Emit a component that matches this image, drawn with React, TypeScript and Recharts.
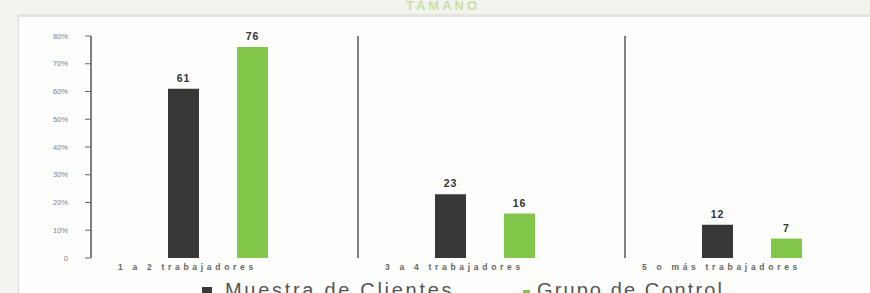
import React from 'react';
import { BarChart, Bar, XAxis, YAxis, LabelList, ReferenceLine, Legend } from 'recharts';

const categories = ['1 a 2 trabajadores', '3 a 4 trabajadores', '5 o más trabajadores'];
const muestraClientes = [61, 23, 12];
const grupoControl = [76, 16, 7];
const yTicks = [0, 10, 20, 30, 40, 50, 60, 70, 80];
const yTickLabels = ['0', '10%', '20%', '30%', '40%', '50%', '60%', '70%', '80%'];
const separatorCategories = ['3 a 4 trabajadores', '5 o más trabajadores'];
const seriesNames = ['Muestra de Clientes', 'Grupo de Control'];
const titleText = 'TAMAÑO';

const DARK = '#3a3737';
const GREEN = '#82c64a';

const data = categories.map((c, i) => ({
  category: c,
  muestra: muestraClientes[i],
  control: grupoControl[i],
}));

const CategoryTick = (props: any) => {
  const { x, y, payload } = props;
  return (
    <text
      x={x}
      y={y}
      dx={-30}
      dy={4}
      textAnchor="middle"
      fontFamily="Liberation Sans, Arial, sans-serif"
      fontSize={8.5}
      fontWeight="bold"
      letterSpacing={3.7}
      fill="#666"
    >
      {payload.value}
    </text>
  );
};

const renderLegend = (props: any) => {
  const payload = [...(props.payload || [])].sort(
    (a: any, b: any) => seriesNames.indexOf(a.value) - seriesNames.indexOf(b.value)
  );
  const pos = [
    { sq: 202, sqSize: 10, text: 225, ls: 2.7 },
    { sq: 523, sqSize: 7, text: 537, ls: 2.1 },
  ];
  return (
    <div style={{ position: 'relative', width: 870, height: 30 }}>
      {payload.map((p: any, i: number) => (
        <React.Fragment key={i}>
          <div
            style={{
              position: 'absolute',
              left: pos[i].sq,
              top: 17 + (10 - pos[i].sqSize),
              width: pos[i].sqSize,
              height: pos[i].sqSize,
              background: p.color,
            }}
          />
          <div
            style={{
              position: 'absolute',
              left: pos[i].text,
              top: 10,
              fontFamily: 'Liberation Sans, Arial, sans-serif',
              fontSize: 20,
              lineHeight: '20px',
              letterSpacing: pos[i].ls,
              color: '#555',
              whiteSpace: 'nowrap',
            }}
          >
            {p.value}
          </div>
        </React.Fragment>
      ))}
    </div>
  );
};

export default function App() {
  return (
    <div
      style={{
        position: 'fixed',
        left: 0,
        top: 0,
        width: 870,
        height: 293,
        overflow: 'hidden',
        background: '#f3f3ef',
      }}
    >
      <div
        style={{
          position: 'absolute',
          zIndex: 0,
          left: 18,
          top: 14,
          width: 870,
          height: 300,
          background: '#fdfdfb',
          borderTop: '3px solid #e4e6de',
          borderLeft: '1px solid #dcdcd6',
        }}
      />
      <div
        style={{
          position: 'absolute',
          zIndex: 1,
          left: 406,
          top: -2,
          fontFamily: 'Liberation Sans, Arial, sans-serif',
          fontSize: 13,
          fontWeight: 'bold',
          letterSpacing: 3,
          color: '#c8e0a4',
        }}
      >
        {titleText}
      </div>
      <div style={{ position: 'absolute', zIndex: 2, left: 0, top: 0, width: 900, height: 293 }}>
        <BarChart
          width={900}
          height={293}
          data={data}
          margin={{ top: 36, right: 8, bottom: 5, left: 0 }}
          barSize={31}
          barGap={38}
        >
          <XAxis
            dataKey="category"
            axisLine={false}
            tickLine={false}
            tick={<CategoryTick />}
            interval={0}
            padding={{ left: -7, right: 7 }}
          />
          <XAxis xAxisId="sep" dataKey="category" hide />
          <YAxis
            width={91}
            domain={[0, 80]}
            ticks={yTicks}
            tickFormatter={(v: number) => yTickLabels[yTicks.indexOf(v)]}
            tickSize={6}
            tickMargin={17}
            axisLine={{ stroke: '#555', strokeWidth: 1.5 }}
            tickLine={{ stroke: '#666' }}
            tick={{ fontSize: 7.5, fill: '#808080', fontFamily: 'Liberation Sans, Arial, sans-serif' }}
            interval={0}
          />
          {separatorCategories.map((s) => (
            <ReferenceLine key={s} x={s} xAxisId="sep" position="start" stroke="#808080" strokeWidth={2} />
          ))}
          <Bar dataKey="muestra" name={seriesNames[0]} fill={DARK} isAnimationActive={false}>
            <LabelList
              dataKey="muestra"
              position="top"
              offset={7}
              fontSize={10.5}
              fontWeight="bold"
              letterSpacing={1}
              fill="#333"
              fontFamily="Liberation Sans, Arial, sans-serif"
            />
          </Bar>
          <Bar dataKey="control" name={seriesNames[1]} fill={GREEN} isAnimationActive={false}>
            <LabelList
              dataKey="control"
              position="top"
              offset={7}
              fontSize={10.5}
              fontWeight="bold"
              letterSpacing={1}
              fill="#333"
              fontFamily="Liberation Sans, Arial, sans-serif"
            />
          </Bar>
          <Legend
            layout="horizontal"
            verticalAlign="middle"
            align="center"
            wrapperStyle={{ top: 270, left: 0, width: 870, height: 30 }}
            content={renderLegend}
          />
        </BarChart>
      </div>
    </div>
  );
}
